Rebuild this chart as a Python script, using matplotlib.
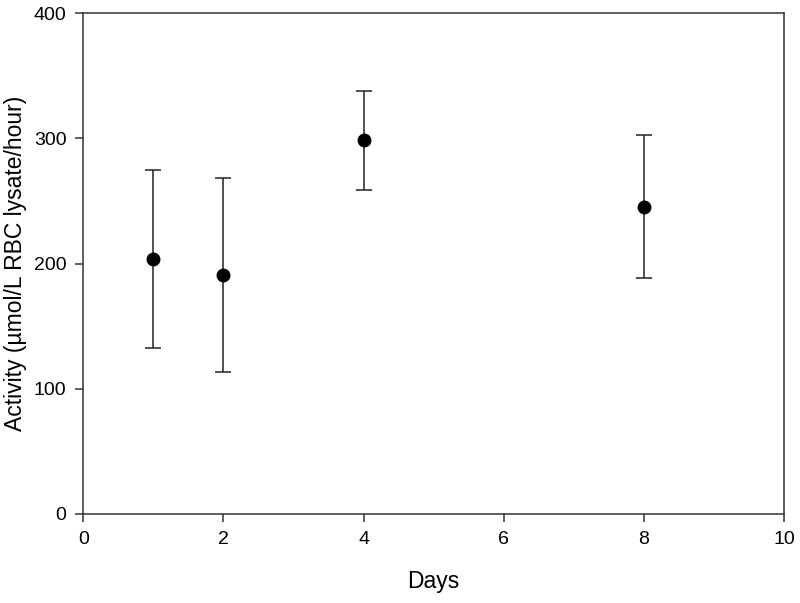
import matplotlib
matplotlib.use('Agg')
import matplotlib.pyplot as plt

plt.rcParams['font.family'] = ['Liberation Sans', 'DejaVu Sans']

days = [1, 2, 4, 8]
activity = [203.5, 190.8, 298.4, 245.4]
sd = [71.2, 77.2, 39.7, 57.2]

fig = plt.figure(figsize=(8, 6.03), dpi=100)
ax = fig.add_axes([0.104, 0.1476, 0.876, 0.8308])

ax.errorbar(days, activity, yerr=sd, fmt='o', color='black', ecolor='#222222',
            markersize=9, elinewidth=1.1, capsize=5.5, capthick=1.1)

ax.set_xlim(0, 10)
ax.set_ylim(0, 400)
ax.set_xticks([0, 2, 4, 6, 8, 10])
ax.set_yticks([0, 100, 200, 300, 400])
for s in ax.spines.values():
    s.set_color('#333333')
    s.set_linewidth(1.1)
ax.tick_params(direction='out', length=6, width=1.1, color='#333333',
               labelsize=14, pad=6)
ax.set_xlabel('Days', fontsize=16.5, labelpad=16)
ax.set_ylabel('Activity (\u00b5mol/L RBC lysate/hour)', fontsize=16.5, labelpad=5)

fig.savefig('out.png', dpi=100)
